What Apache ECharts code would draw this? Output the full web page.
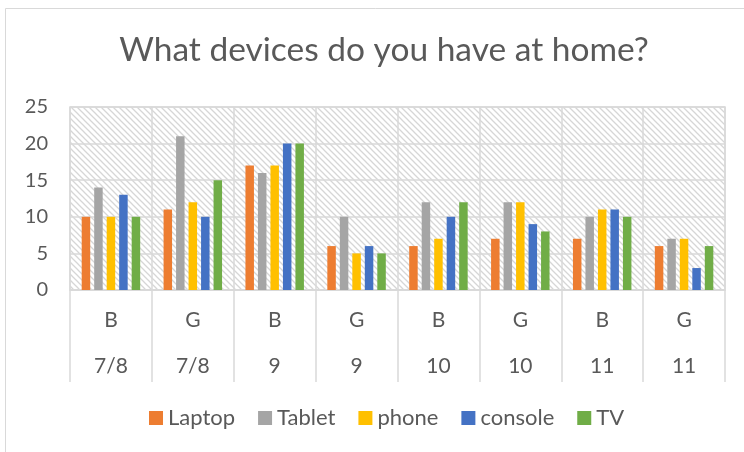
<!DOCTYPE html>
<html>
<head>
<meta charset="utf-8">
<script src="https://cdn.jsdelivr.net/npm/echarts@6/dist/echarts.min.js"></script>
<style>
html,body{margin:0;padding:0;background:#fff;}
#chart{width:744px;height:452px;}
</style>
</head>
<body>
<div id="chart"></div>
<script>
// ---- data ----
const genders = ['B','G','B','G','B','G','B','G'];
const grades = ['7/8','7/8','9','9','10','10','11','11'];
const seriesNames = ['Laptop','Tablet','phone','console','TV'];
const laptop  = [10,11,17,6,6,7,7,6];
const tablet  = [14,21,16,10,12,12,10,7];
const phone   = [10,12,17,5,7,12,11,7];
const consoleV= [13,10,20,6,10,9,11,3];
const tv      = [10,15,20,5,12,8,10,6];
const yTicks = {min:0, max:25, interval:5};

const colors = ['#ED7D31','#A5A5A5','#FFC000','#4472C4','#70AD47'];
const values = [laptop, tablet, phone, consoleV, tv];

function hatch(){
  const s = 6;
  const c = document.createElement('canvas');
  c.width = s; c.height = s;
  const g = c.getContext('2d');
  g.fillStyle = '#ffffff'; g.fillRect(0,0,s,s);
  g.strokeStyle = '#d6d6d6'; g.lineWidth = 1.3;
  g.beginPath();
  g.moveTo(-1,-1); g.lineTo(s+1,s+1);
  g.moveTo(-1,s-1); g.lineTo(1,s+1);
  g.moveTo(s-1,-1); g.lineTo(s+1,1);
  g.stroke();
  return c;
}

const FONT = 'Lato';
const TXT = '#595959';
const LINE = '#d9d9d9';

const chart = echarts.init(document.getElementById('chart'), null, {renderer:'canvas'});
chart.setOption({
  animation:false,
  textStyle:{fontFamily:FONT},
  graphic:[{type:'rect', shape:{x:5.5,y:8.5,width:900,height:600}, style:{fill:'none', stroke:LINE, lineWidth:1}, silent:true, z:-10}],
  title:{
    text:'What devices do you have at home?',
    left:379, top:28, textAlign:'center',
    textStyle:{fontFamily:FONT, fontSize:33.5, fontWeight:'normal', color:TXT}
  },
  legend:{
    data:seriesNames, left:149, top:407, padding:0,
    icon:'rect', itemWidth:14, itemHeight:14, itemGap:23,
    textStyle:{fontFamily:FONT, fontSize:22, color:TXT}
  },
  grid:{
    left:70, right:19, top:107, bottom:162,
    show:true, backgroundColor:{image:hatch(), repeat:'repeat'},
    borderColor:LINE, borderWidth:1.5
  },
  xAxis:[
    {
      type:'category', data:genders, position:'bottom',
      axisLine:{show:true, lineStyle:{color:LINE, width:1.5}},
      axisTick:{show:true, length:92, interval:0, lineStyle:{color:LINE, width:1.5}},
      axisLabel:{interval:0, margin:20, fontFamily:FONT, fontSize:21, color:TXT},
      splitLine:{show:true, interval:0, lineStyle:{color:LINE, width:1.5}}
    },
    {
      type:'category', data:grades, position:'bottom',
      axisLine:{show:false}, axisTick:{show:false}, splitLine:{show:false},
      axisLabel:{interval:0, margin:66, fontFamily:FONT, fontSize:21, color:TXT}
    }
  ],
  yAxis:{
    type:'value', min:yTicks.min, max:yTicks.max, interval:yTicks.interval,
    axisLine:{show:false}, axisTick:{show:false},
    axisLabel:{margin:22, fontFamily:FONT, fontSize:20, color:TXT},
    splitLine:{show:true, lineStyle:{color:LINE, width:1.5}}
  },
  series: seriesNames.map((n,i)=>({
    name:n, type:'bar', xAxisIndex:0, data:values[i],
    barWidth:8.5, barGap:'47%',
    itemStyle:{color:colors[i]}
  }))
});
</script>
</body>
</html>
